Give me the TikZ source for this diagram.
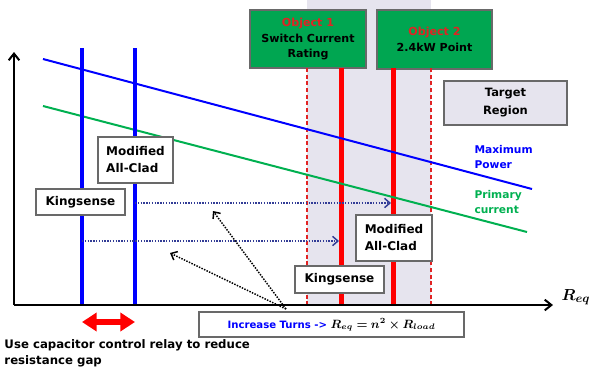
\documentclass[tikz,border=0pt]{standalone}
\usepackage{bm}
\usepackage{fontspec}
\setmainfont{DejaVu Sans}
\usetikzlibrary{arrows.meta}

\definecolor{objgreen}{RGB}{0,166,81}
\definecolor{objred}{RGB}{225,35,35}
\definecolor{regiongray}{RGB}{230,228,238}
\definecolor{framegray}{RGB}{105,105,105}
\definecolor{curvegreen}{RGB}{0,176,80}
\definecolor{shiftblue}{RGB}{50,60,150}

\tikzset{every picture/.style={line width=0.75pt}}
\tikzset{
	objbox/.style={draw=framegray, fill=objgreen, line width=1pt, align=center, inner sep=0pt,
		font=\bfseries\fontsize{8.3}{11.5}\selectfont},
	namebox/.style={draw=framegray, fill=white, line width=1.1pt, inner sep=0pt,
		font=\bfseries\fontsize{9}{12.75}\selectfont},
	curvelabel/.style={anchor=west, align=left, inner sep=0pt,
		font=\bfseries\fontsize{8}{11.3}\selectfont},
	shiftarrow/.style={densely dotted, line width=1.1pt, -{Straight Barb[length=4pt,width=7pt]}},
	axisarrow/.style={line width=1.5pt, -{Straight Barb[length=5pt,width=8pt]}}
}

\begin{document}
\begin{tikzpicture}[x=0.75pt,y=0.75pt,yscale=-1,xscale=1]
	\useasboundingbox (0,0) rectangle (592,372);

	%Shape: Rectangle [target region]
	\fill [regiongray] (307,0) rectangle (431,305);

	% Object boxes
	\node [objbox, minimum width=87pt, minimum height=43.5pt] (obja) at (308,39)
		{\textcolor{objred}{Object 1}\\Switch Current\\Rating};
	\node [objbox, minimum width=86.25pt, minimum height=44.25pt] (objb) at (434.5,39.5)
		{\textcolor{objred}{Object 2}\\2.4kW Point};

	%Straight Lines [red limits]
	\draw [objred, densely dashed, line width=1.1pt] (307,68) -- (307,305) ;
	\draw [objred, densely dashed, line width=1.1pt] (431,68) -- (431,305) ;
	\draw [red, line width=3.75pt] (341,68) -- (341,305) ;
	\draw [red, line width=3.75pt] (393,68) -- (393,305) ;

	%Straight Lines [curves]
	\draw [blue, line width=1.5pt] (43,59) -- (532,189) ;
	\draw [curvegreen, line width=1.5pt] (43,106) -- (527,232) ;

	%Straight Lines [blue limits]
	\draw [blue, line width=3pt] (82,48) -- (82,305) ;
	\draw [blue, line width=3pt] (135,48) -- (135,305) ;

	% Shift arrows
	\coordinate (kingfrom) at (135,203);
	\coordinate (kingto) at (391,203);
	\coordinate (cladfrom) at (82,241);
	\coordinate (cladto) at (339,241);
	\draw [shiftarrow, shiftblue] (kingfrom) -- (kingto) ;
	\draw [shiftarrow, shiftblue] (cladfrom) -- (cladto) ;

	\coordinate (turnsfoot) at (286,309);
	\coordinate (upper) at (213,211);
	\coordinate (lower) at (170,253);
	\draw [shiftarrow] (turnsfoot) -- (upper) ;
	\draw [shiftarrow] (turnsfoot) -- (lower) ;

	%Straight Lines [axes]
	\coordinate (origin) at (14,305);
	\coordinate (ytop) at (14,52);
	\coordinate (xend) at (553,305);
	\draw [axisarrow] (origin) -- (ytop) ;
	\draw [axisarrow] (origin) -- (xend) ;

	% Name boxes
	\node [namebox, align=left, minimum width=56.25pt, minimum height=34.5pt] (clada) at (135.5,160)
		{Modified\\All-Clad};
	\node [namebox, align=left, minimum width=57pt, minimum height=34.5pt] (cladb) at (394,238)
		{Modified\\All-Clad};
	\node [namebox, minimum width=66.75pt, minimum height=19.5pt] (kinga) at (80.5,202) {Kingsense};
	\node [namebox, minimum width=66.75pt, minimum height=20.25pt] (kingb) at (339.5,279.5) {Kingsense};
	\node [namebox, fill=regiongray, align=center, minimum width=92.25pt, minimum height=33pt,
		font=\bfseries\fontsize{8.6}{13.5}\selectfont] (target) at (505.5,103) {Target\\Region};
	\node [namebox, minimum width=198.75pt, minimum height=18.75pt,
		font=\bfseries\fontsize{7.6}{10}\selectfont] (turns) at (331.5,324.5)
		{\textcolor{blue}{Increase Turns ->} {\fontsize{8.8}{10}\selectfont$\bm{R_{eq}=n^2\times R_{load}}$}};

	% Text Node
	\node [curvelabel, text=blue] (maxpower) at (474,157) {Maximum\\Power};
	% Text Node
	\node [curvelabel, text=curvegreen] (primary) at (474,202) {Primary\\current};
	% Text Node
	\node [inner sep=0pt, font=\fontsize{13}{15}\selectfont] (label) at (576,297) {$\bm{R_{eq}}$};

	%Straight Lines [gap arrow]
	\coordinate (gapleft) at (82,322);
	\coordinate (gapright) at (135,322);
	\draw [red, line width=4.5pt, {Triangle[length=11pt,width=13.5pt]}-{Triangle[length=11pt,width=13.5pt]}]
		(gapleft) -- (gapright) ;

	% Text Node
	\node [anchor=west, align=left, inner sep=0pt, font=\bfseries\fontsize{8.8}{12}\selectfont] (relay) at (4,353)
		{Use capacitor control relay to reduce\\resistance gap};

\end{tikzpicture}
\end{document}
